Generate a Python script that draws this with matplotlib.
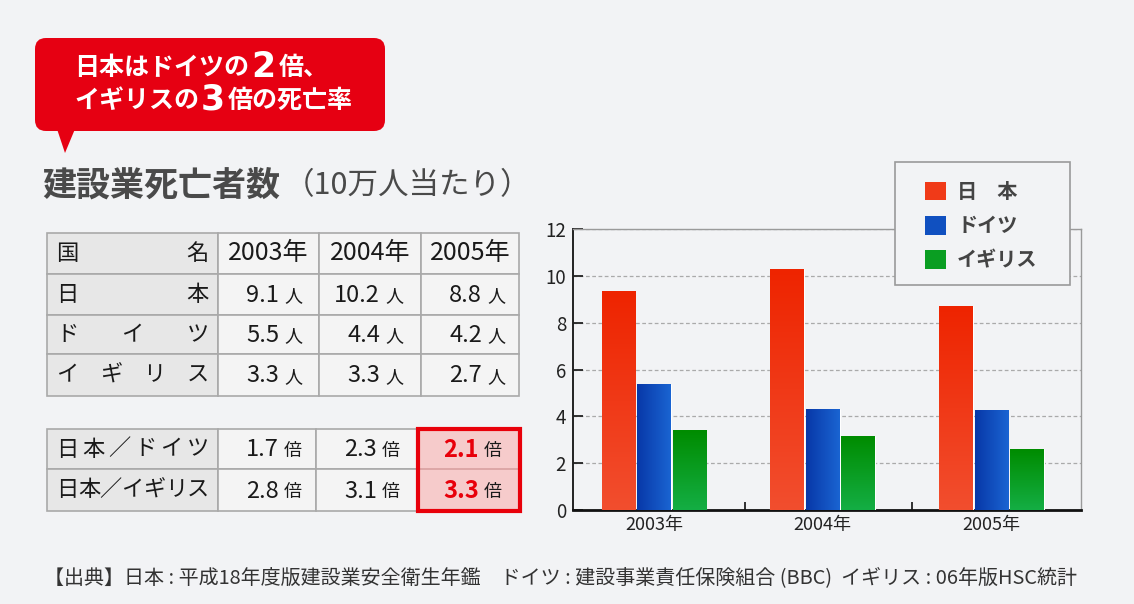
import numpy as np
import matplotlib
matplotlib.use("Agg")
import matplotlib.pyplot as plt
from matplotlib.patches import Rectangle, FancyBboxPatch, Polygon, Patch
from matplotlib.colors import LinearSegmentedColormap

plt.rcParams['font.family'] = ['Noto Sans CJK JP', 'DejaVu Sans']

# ---------------- data ----------------
years = ['2003年', '2004年', '2005年']
series_names = ['日　本', 'ドイツ', 'イギリス']
# values
japan_bar = [9.35, 10.3, 8.7]
germany_bar = [5.4, 4.3, 4.25]
uk_bar = [3.4, 3.15, 2.6]
# table values
table_row_labels = ['日本', 'ドイツ', 'イギリス']
japan_tbl = ['9.1', '10.2', '8.8']
germany_tbl = ['5.5', '4.4', '4.2']
uk_tbl = ['3.3', '3.3', '2.7']
ratio_labels = ['日本／ドイツ', '日本／イギリス']
ratio_de = ['1.7', '2.3', '2.1']
ratio_uk = ['2.8', '3.1', '3.3']
yticks = [0, 2, 4, 6, 8, 10, 12]
title_main = '建設業死亡者数'
title_sub = '（10万人当たり）'
source_note = '【出典】日本 : 平成18年度版建設業安全衛生年鑑　ドイツ : 建設事業責任保険組合 (BBC)  イギリス : 06年版HSC統計'

BG = '#F2F3F5'
W, H = 1134, 604
fig = plt.figure(figsize=(W / 100, H / 100), dpi=100)
fig.patch.set_facecolor(BG)

# overlay axes in pixel coordinates for the infographic parts
ov = fig.add_axes([0, 0, 1, 1])
ov.set_xlim(0, W)
ov.set_ylim(H, 0)
ov.axis('off')
ov.patch.set_alpha(0)

# ---- callout bubble ----
RED = '#E60012'
ov.add_patch(FancyBboxPatch((35, 38), 350, 93, boxstyle="round,pad=0,rounding_size=11",
                            fc=RED, ec='none'))
ov.add_patch(Polygon([[57, 129], [75, 129], [65, 153]], closed=True, fc=RED, ec='none'))
white = dict(color='white', va='center', ha='left', fontweight='bold')
ov.text(74, 68, '日本はドイツの', fontsize=18, **white)
ov.text(251, 67, '2', fontsize=25, fontfamily=['DejaVu Sans'], **white)
ov.text(279, 68, '倍、', fontsize=18, **white)
ov.text(74, 101, 'イギリスの', fontsize=18, **white)
ov.text(201, 100, '3', fontsize=25, fontfamily=['DejaVu Sans'], **white)
ov.text(228, 101, '倍の死亡率', fontsize=18, **white)

# ---- title ----
ov.text(42, 185, title_main, fontsize=24.5, fontweight='bold', color='#4A4A4A',
        va='center', ha='left')
ov.text(284, 186, title_sub, fontsize=22, color='#4A4A4A', va='center', ha='left')

# ---- tables ----
LBL_BG = '#E7E7E7'
CELL_BG = '#F4F4F4'
LINE = '#A9A9A9'
TXT = '#1A1A1A'


def spread_label(text, x0, x1, yc, size=16):
    chars = list(text)
    cw = size * 1.3
    c0, c1 = x0 + cw / 2, x1 - cw / 2
    for i, ch in enumerate(chars):
        xc = c0 + (c1 - c0) * i / (len(chars) - 1)
        ov.text(xc, yc, ch, fontsize=size, ha='center', va='center', color=TXT)


def draw_table(xs, ys, labels, rows, unit, header=None, red_col=None):
    for r in range(len(ys) - 1):
        for c in range(len(xs) - 1):
            fc = LBL_BG if c == 0 else CELL_BG
            ov.add_patch(Rectangle((xs[c], ys[r]), xs[c + 1] - xs[c], ys[r + 1] - ys[r],
                                   fc=fc, ec=LINE, lw=1.2))
    start = 0
    if header is not None:
        yc = (ys[0] + ys[1]) / 2
        spread_label(header[0], xs[0] + 10, xs[1] - 10, yc)
        for c, t in enumerate(header[1:]):
            ov.text((xs[c + 1] + xs[c + 2]) / 2, yc, t, fontsize=18, ha='center', va='center', color=TXT)
        start = 1
    if red_col is not None:
        ov.add_patch(Rectangle((xs[red_col], ys[start]), xs[-1] - xs[red_col],
                               ys[-1] - ys[start], fc='#F6CBCB', ec='none', zorder=2))
        for r in range(start + 1, len(ys) - 1):
            ov.plot([xs[red_col], xs[-1]], [ys[r], ys[r]], color='#D9A0A0', lw=1.2, zorder=2.1)
        ov.add_patch(Rectangle((xs[red_col], ys[start]), xs[-1] - xs[red_col],
                               ys[-1] - ys[start], fc='none', ec='#E8000A', lw=3, zorder=3))
    for i, (lab, vals) in enumerate(zip(labels, rows)):
        r = i + start
        yc = (ys[r] + ys[r + 1]) / 2
        spread_label(lab, xs[0] + 10, xs[1] - 10, yc)
        for c, v in enumerate(vals):
            xl = xs[c + 1]
            is_red = red_col is not None and (c + 1) == red_col
            ov.text(xl + 61, yc + 1, v, fontsize=17,
                    fontweight='bold' if is_red else 'normal',
                    color='#E8000A' if is_red else TXT, ha='right', va='center', zorder=4)
            ov.text(xl + 66, yc + 2, unit, fontsize=13, color=TXT, ha='left', va='center', zorder=4)


draw_table([47, 218, 319, 421, 519], [233, 274, 315, 354, 396],
           table_row_labels, [japan_tbl, germany_tbl, uk_tbl], '人',
           header=['国名'] + years)
draw_table([47, 218, 316, 418, 520], [429, 469, 511],
           ratio_labels, [ratio_de, ratio_uk], '倍', red_col=3)

# ---- footnote ----
ov.text(44, 578, source_note, fontsize=14.4, color='#333333', ha='left', va='center')

# ---------------- bar chart ----------------
ax = fig.add_axes([573 / W, (H - 510) / H, 508 / W, 281 / H])
ax.patch.set_alpha(0)
x = np.arange(len(years))
bw = 0.2
off = 0.21
series = [japan_bar, germany_bar, uk_bar]
grads = [
    (['#F24E2E', '#EE2400'], 'v'),
    (['#0838A8', '#1A64D2'], 'h'),
    (['#14AE44', '#008C00'], 'v'),
]
solid = ['#F03A18', '#1050C0', '#0A9E22']
for k, vals in enumerate(series):
    bars = ax.bar(x + (k - 1) * off, vals, bw, color=solid[k], edgecolor='white', lw=0.8, zorder=3)
    cmap = LinearSegmentedColormap.from_list('g%d' % k, grads[k][0])
    for b in bars:
        x0, y0, bwid, bh = b.get_x(), b.get_y(), b.get_width(), b.get_height()
        if grads[k][1] == 'v':
            g = np.linspace(0, 1, 100).reshape(-1, 1)
        else:
            g = np.linspace(0, 1, 100).reshape(1, -1)
        im = ax.imshow(g, cmap=cmap, extent=[x0, x0 + bwid, y0, y0 + bh], origin='lower',
                       aspect='auto', zorder=3.5, interpolation='bilinear')
        im.set_clip_path(b)

ax.set_xlim(-0.48, 2.53)
ax.set_ylim(0, 12)
ax.set_yticks(yticks)
ax.set_xticks(x)
ax.set_xticklabels(years, fontsize=13, color='#222222')
ax.set_xticks([0.54, 1.53], minor=True)
ax.tick_params(axis='x', which='major', length=0, pad=4)
ax.tick_params(axis='x', which='minor', direction='in', length=6, width=1.3, color='#222')
ax.tick_params(axis='y', which='major', direction='in', length=7, width=1.3, color='#222',
               labelsize=13.5, labelcolor='#222222', pad=5)
ax.yaxis.grid(True, linestyle=(0, (3, 2)), color='#AAAAAA', lw=0.9)
ax.set_axisbelow(True)
for s in ['top', 'right']:
    ax.spines[s].set_color('#9A9A9A')
    ax.spines[s].set_linewidth(1.0)
ax.spines['left'].set_color('#222222')
ax.spines['left'].set_linewidth(1.4)
ax.spines['bottom'].set_color('#111111')
ax.spines['bottom'].set_linewidth(2.0)

# legend: frame drawn separately so paddings match
ax.add_patch(Rectangle((895 / W, 1 - 285 / H), 175 / W, 123 / H, transform=fig.transFigure,
                       fc=BG, ec='#9A9A9A', lw=1.2, zorder=9, clip_on=False))
handles = [Patch(fc=c, ec='none') for c in solid]
leg = ax.legend(handles, series_names, loc='upper left',
                bbox_to_anchor=(925 / W, 1 - 181 / H), bbox_transform=fig.transFigure,
                frameon=False, prop={'size': 14.5, 'weight': 'bold'},
                handlelength=1.05, handleheight=1.05,
                labelspacing=0.66, handletextpad=0.55, borderpad=0, borderaxespad=0)
for t in leg.get_texts():
    t.set_color('#444444')
leg.set_zorder(10)

fig.savefig('out.png', dpi=100, facecolor=BG)
